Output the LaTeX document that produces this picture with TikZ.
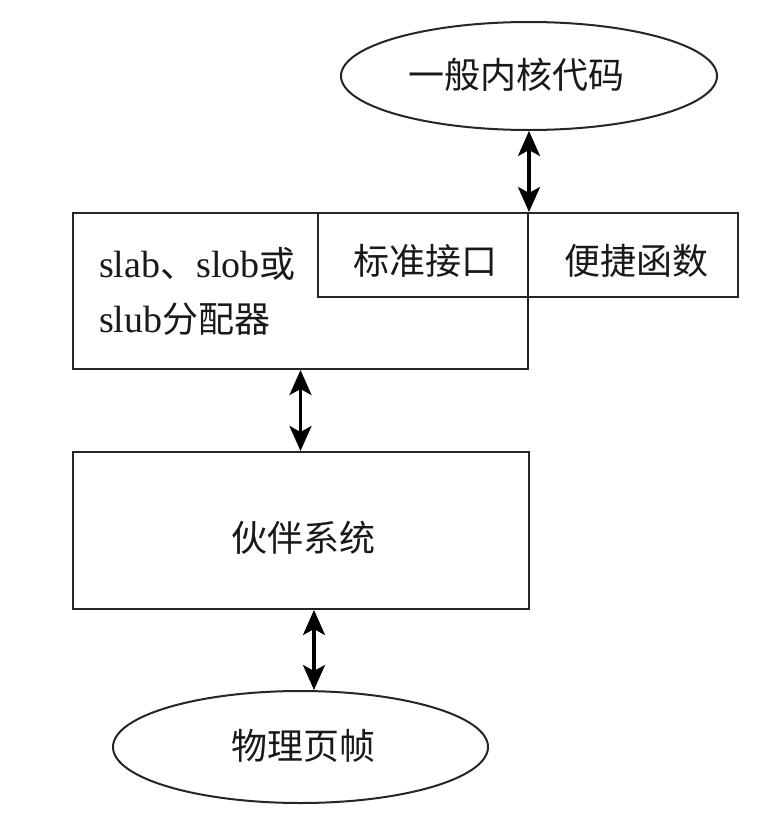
\documentclass[tikz,border=0pt]{standalone}
\usepackage{fontspec}
\setmainfont{Liberation Serif}
\newfontfamily\cjk{Noto Sans CJK SC}
\usetikzlibrary{shapes.geometric,arrows.meta}
\begin{document}
\begin{tikzpicture}[x=1pt,y=-1pt,
  box/.style={draw=black!85, line width=2pt, fill=white, inner sep=0pt},
  oval/.style={ellipse, draw=black!85, line width=2pt, fill=white, inner sep=0pt},
  lbl/.style={font=\fontsize{36}{55}\selectfont\cjk, inner sep=0pt, text=black!90},
  dbl/.style={line width=3.2pt, {Stealth[length=25pt,width=22pt,inset=6pt]}-{Stealth[length=25pt,width=22pt,inset=6pt]}}]
\useasboundingbox (0,0) rectangle (766,822);
\fill[white] (0,0) rectangle (766,822);

\node[oval, minimum width=376pt, minimum height=108pt] (code) at (529,76) {};
\node[lbl] (codeT) at (516,75) {一般内核代码};

\node[box, minimum width=455pt, minimum height=156pt] (alloc) at (300.5,291) {};
\node[box, minimum width=210pt, minimum height=84pt] (std) at (423,255) {};
\node[box, minimum width=210pt, minimum height=84pt] (conv) at (633,255) {};
\node[lbl] (stdT) at (425,261) {标准接口};
\node[lbl] (convT) at (636,261) {便捷函数};
\node[lbl, anchor=west, align=left] (allocT) at (99,291) {{\fontsize{38}{55}\selectfont\rmfamily slab}、{\fontsize{38}{55}\selectfont\rmfamily slob}或\\{\fontsize{38}{55}\selectfont\rmfamily slub}分配器};

\node[box, minimum width=456pt, minimum height=157pt] (buddy) at (300.5,530.5) {};
\node[lbl] (buddyT) at (303,538) {伙伴系统};

\node[oval, minimum width=375pt, minimum height=112pt] (phys) at (300.5,747) {};
\node[lbl] (physT) at (303,746) {物理页帧};

\draw[dbl] (code.south -| std.north east) -- (std.north east);
\draw[dbl] (alloc.south) -- (buddy.north);
\draw[dbl] ([xshift=13.5pt]buddy.south) -- ([xshift=13.5pt]phys.north);
\end{tikzpicture}
\end{document}
